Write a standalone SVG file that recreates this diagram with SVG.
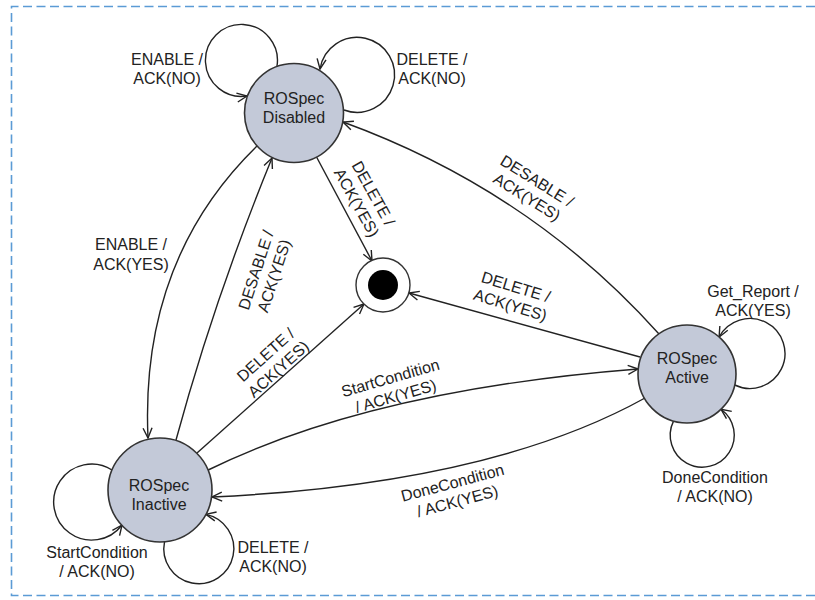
<svg xmlns="http://www.w3.org/2000/svg" width="815" height="600" viewBox="0 0 815 600">
<defs>
<style>
.t{font-family:"Liberation Sans",Arial,sans-serif;font-size:16px;fill:#222;text-anchor:middle}
.n{fill:#c3c9d8;stroke:#333;stroke-width:1.6}
.e{fill:none;stroke:#222;stroke-width:1.4;marker-end:url(#arr)}
.frame{fill:none;stroke:#5b9bd5;stroke-width:1.6;stroke-dasharray:9 4.5}
</style>
<marker id="arr" viewBox="-11 -7 13 14" refX="0" refY="0" markerWidth="13" markerHeight="14" markerUnits="userSpaceOnUse" orient="auto">
<path d="M-10,-4.5 L0,0 L-10,4.5" fill="none" stroke="#222" stroke-width="1.4"/>
</marker>
</defs>
<rect width="815" height="600" fill="#fff"/>
<path class="frame" d="M815,6.5 H11.5 V595.5 H815"/>
<g id="connectors">
<path class="e" d="M277,66 A36,36 0 1 0 247,96"/>
<path class="e" d="M344,110 A37.5,37.5 0 1 0 320,69"/>
<path class="e" d="M112,470 A38,38 0 1 0 122,525"/>
<path class="e" d="M164.5,541.8 A35,35 0 1 0 205.9,514.4"/>
<path class="e" d="M734.7,385 A35,35 0 1 0 719.1,337"/>
<path class="e" d="M673.5,421.1 A32,32 0 1 0 721,409.2"/>
<path class="e" d="M257,146 Q140,260 148,438"/>
<path class="e" d="M176,440 Q214,300 272,158"/>
<path class="e" d="M316,156 L372,261"/>
<path class="e" d="M659,334 Q530,190 343,122"/>
<path class="e" d="M640,357 L409,293"/>
<path class="e" d="M197,453 L364,304"/>
<path class="e" d="M206,471 Q370,390 638,369"/>
<path class="e" d="M645,398 Q490,484 212,497"/>
</g>
<g id="disabled">
<circle class="n" cx="294" cy="113" r="49.5"/>
<text class="t" x="294" y="104">ROSpec</text>
<text class="t" x="294" y="123">Disabled</text>
</g>
<g id="inactive">
<circle class="n" cx="160" cy="490" r="52"/>
<text class="t" x="159" y="491">ROSpec</text>
<text class="t" x="159" y="510">Inactive</text>
</g>
<g id="active">
<circle class="n" cx="687" cy="374" r="49"/>
<text class="t" x="687" y="364">ROSpec</text>
<text class="t" x="687" y="383">Active</text>
</g>
<g id="final">
<circle cx="383" cy="285" r="27" fill="#fff" stroke="#333" stroke-width="1.4"/>
<circle cx="383" cy="285" r="15" fill="#000"/>
</g>
<g id="labels">
<text class="t" x="167" y="65">ENABLE /</text>
<text class="t" x="167" y="84">ACK(NO)</text>
<text class="t" x="432" y="65">DELETE /</text>
<text class="t" x="432" y="84">ACK(NO)</text>
<text class="t" x="131" y="250">ENABLE /</text>
<text class="t" x="131" y="270">ACK(YES)</text>
<text class="t" x="753" y="297">Get_Report /</text>
<text class="t" x="753" y="316">ACK(YES)</text>
<text class="t" x="715" y="483">DoneCondition</text>
<text class="t" x="715" y="502">/ ACK(NO)</text>
<text class="t" x="97" y="558">StartCondition</text>
<text class="t" x="97" y="577">/ ACK(NO)</text>
<text class="t" x="273" y="553">DELETE /</text>
<text class="t" x="273" y="572">ACK(NO)</text>
<g transform="translate(265,273) rotate(-72)"><text class="t" y="-4">DESABLE /</text><text class="t" y="15">ACK(YES)</text></g>
<g transform="translate(365,198) rotate(61)"><text class="t" y="-4">DELETE /</text><text class="t" y="15">ACK(YES)</text></g>
<g transform="translate(532,189) rotate(32)"><text class="t" y="-4">DESABLE /</text><text class="t" y="15">ACK(YES)</text></g>
<g transform="translate(513,296) rotate(17)"><text class="t" y="-4">DELETE /</text><text class="t" y="15">ACK(YES)</text></g>
<g transform="translate(272,362) rotate(-42)"><text class="t" y="-4">DELETE /</text><text class="t" y="15">ACK(YES)</text></g>
<g transform="translate(393,387) rotate(-16)"><text class="t" y="-4">StartCondition</text><text class="t" y="15">/ ACK(YES)</text></g>
<g transform="translate(455,492) rotate(-15)"><text class="t" y="-4">DoneCondition</text><text class="t" y="15">/ ACK(YES)</text></g>
</g>
</svg>
